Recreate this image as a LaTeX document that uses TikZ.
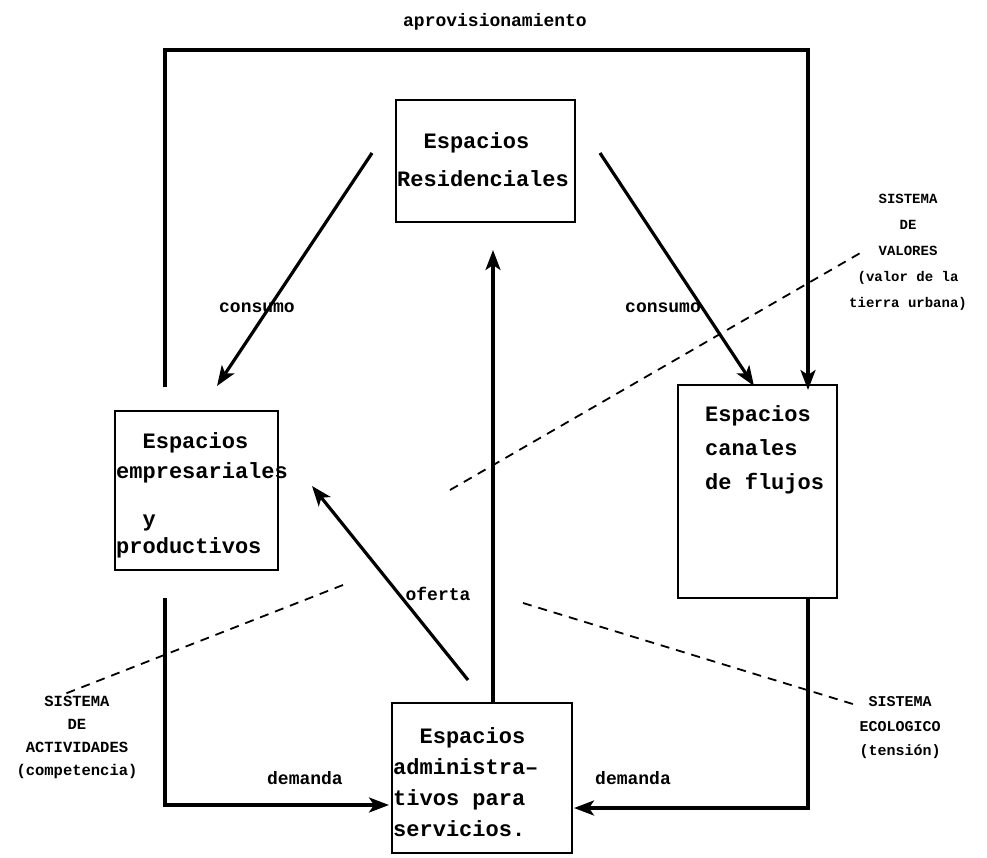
\documentclass[tikz,border=0pt]{standalone}
\usepackage{fontspec}
\usetikzlibrary{arrows.meta}
\newfontfamily\boxfont{Liberation Mono}
\tikzset{
  caja/.style={draw, line width=1.6pt, inner sep=0pt},
  texto/.style={font=\boxfont\bfseries\fontsize{22}{32}\selectfont, align=left, anchor=north west, inner sep=0pt},
  rotulo/.style={font=\boxfont\bfseries\fontsize{18}{20}\selectfont, inner sep=0pt},
  sistema/.style={font=\boxfont\bfseries\fontsize{14}{24}\selectfont, align=center, inner sep=0pt},
  flujo/.style={line width=3.2pt, -{Stealth[length=20pt,width=15pt,inset=5pt]}},
  limite/.style={line width=1.8pt, dash pattern=on 9pt off 7pt},
}
\begin{document}
\begin{tikzpicture}[x=1pt,y=-1pt]
\useasboundingbox (0,0) rectangle (987,858);
% espacios
\node[caja, minimum width=179, minimum height=122] (res) at (485.5,161) {};
\node[caja, minimum width=163, minimum height=159] (emp) at (196.5,490.5) {};
\node[caja, minimum width=159, minimum height=213] (can) at (757.5,491.5) {};
\node[caja, minimum width=180, minimum height=150] (adm) at (482,778) {};
\node[texto] (resTxt) at (397,132) {\phantom{xx}Espacios\\[6pt]Residenciales};
\node[texto] (empTxt) at (116,432) {\phantom{xx}Espacios\\[-2pt]empresariales\\[16pt]\phantom{xx}y\\[-5pt]productivos};
\node[texto] (canTxt) at (705,405) {Espacios\\[2pt]canales\\[2pt]de flujos};
\node[texto] (admTxt) at (393,727) {\phantom{xx}Espacios\\[-1pt]administra–\\[-1pt]tivos para\\[-1pt]servicios.};
% rotulos
\node[rotulo] (aprov) at (495,22) {aprovisionamiento};
\node[rotulo] (cons1) at (257,308) {consumo};
\node[rotulo] (cons2) at (663,308) {consumo};
\node[rotulo] (ofer) at (438,594) {oferta};
\node[rotulo] (dem1) at (305,778) {demanda};
\node[rotulo] (dem2) at (633,778) {demanda};
\node[sistema, font=\boxfont\bfseries\fontsize{14}{26}\selectfont] (valores) at (908,252) {SISTEMA\\DE\\VALORES\\(valor de la\\tierra urbana)};
\node[sistema, font=\boxfont\bfseries\fontsize{15.5}{23}\selectfont] (activ) at (77,737) {SISTEMA\\DE\\ACTIVIDADES\\(competencia)};
\node[sistema, font=\boxfont\bfseries\fontsize{15}{24.5}\selectfont] (ecolog) at (900,728) {SISTEMA\\ECOLOGICO\\(tensión)};
% flujos
\coordinate (aprovL) at (165,387);
\coordinate (esq) at (808,50);
\coordinate (aprovR) at (808,390);
\draw[flujo] (aprovL) |- (esq) -- (aprovR);
\coordinate (c1) at (372,153);
\coordinate (c2) at (217,386);
\coordinate (c3) at (600,153);
\coordinate (c4) at (754,386);
\draw[flujo] (c1) -- (c2);
\draw[flujo] (c3) -- (c4);
\coordinate (o1) at (493,702);
\coordinate (o2) at (493,250);
\coordinate (o3) at (468,680);
\coordinate (o4) at (312,486);
\draw[flujo] (o1) -- (o2);
\draw[flujo] (o3) -- (o4);
\coordinate (d1) at (165,598);
\coordinate (d2) at (389,805);
\coordinate (d3) at (808,598);
\coordinate (d4) at (574,808);
\draw[flujo] (d1) |- (d2);
\draw[flujo] (d3) |- (d4);
% sistemas
\coordinate (v1) at (450,490);
\coordinate (v2) at (862,252);
\coordinate (a1) at (343,585);
\coordinate (a2) at (62,695);
\coordinate (e1) at (523,603);
\coordinate (e2) at (856,705);
\draw[limite] (v1) -- (v2);
\draw[limite] (a1) -- (a2);
\draw[limite] (e1) -- (e2);
\end{tikzpicture}
\end{document}
